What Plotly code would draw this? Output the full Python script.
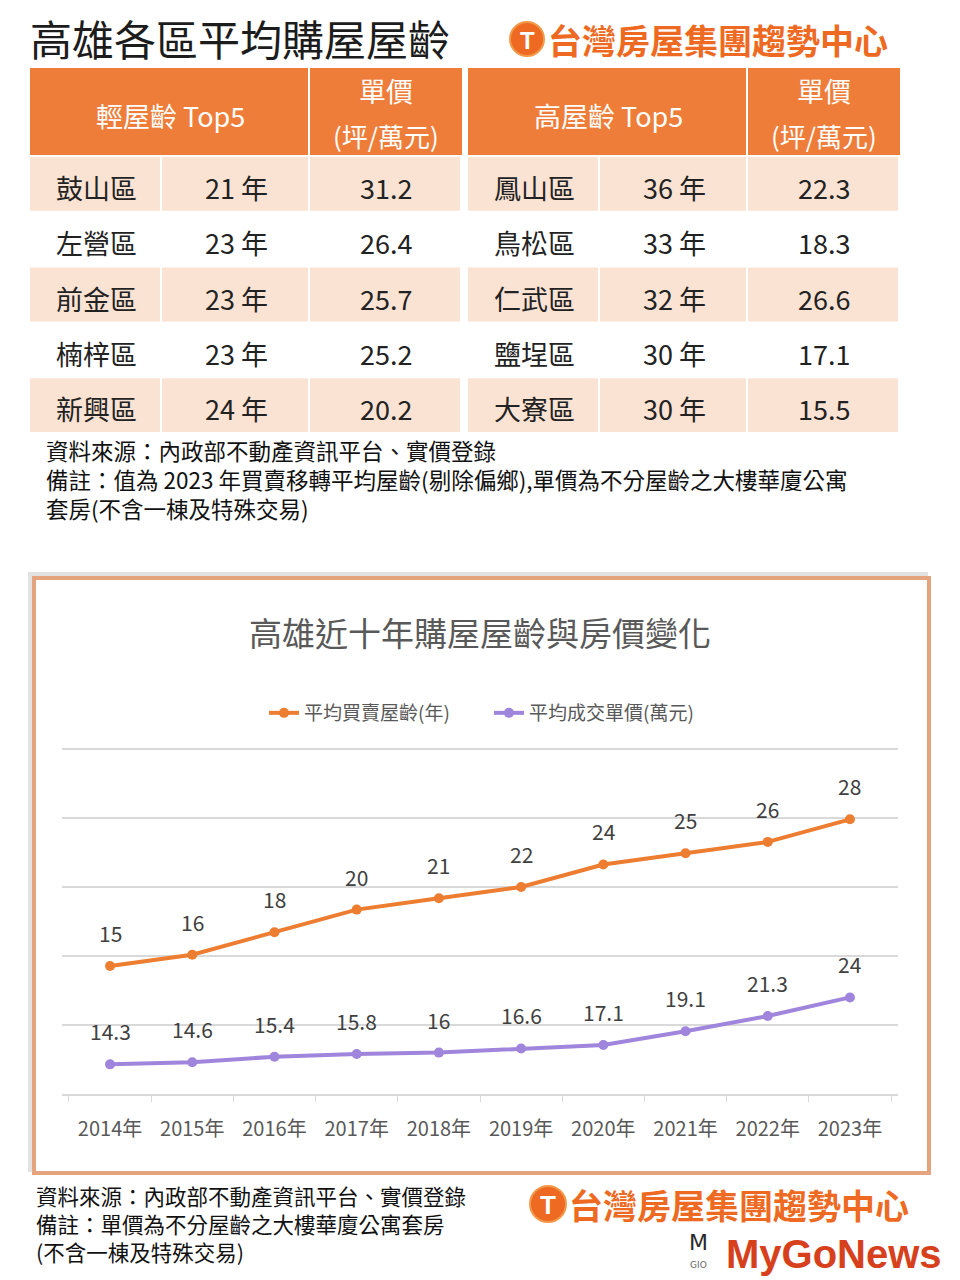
import plotly.graph_objects as go

W, H = 960, 1280

# ---------------- data ----------------
main_title = "高雄各區平均購屋屋齡"
brand = "台灣房屋集團趨勢中心"
light_header = "輕屋齡 Top5"
old_header = "高屋齡 Top5"
price_header = ["單價", "(坪/萬元)"]

light_districts = ["鼓山區", "左營區", "前金區", "楠梓區", "新興區"]
light_ages = [21, 23, 23, 23, 24]
light_prices = [31.2, 26.4, 25.7, 25.2, 20.2]

old_districts = ["鳳山區", "鳥松區", "仁武區", "鹽埕區", "大寮區"]
old_ages = [36, 33, 32, 30, 30]
old_prices = [22.3, 18.3, 26.6, 17.1, 15.5]

table_notes = [
    "資料來源：內政部不動產資訊平台、實價登錄",
    "備註：值為 2023 年買賣移轉平均屋齡(剔除偏鄉),單價為不分屋齡之大樓華廈公寓",
    "套房(不含一棟及特殊交易)",
]

chart_title = "高雄近十年購屋屋齡與房價變化"
years = ["2014年", "2015年", "2016年", "2017年", "2018年",
         "2019年", "2020年", "2021年", "2022年", "2023年"]
avg_age = [15, 16, 18, 20, 21, 22, 24, 25, 26, 28]
avg_price = [14.3, 14.6, 15.4, 15.8, 16, 16.6, 17.1, 19.1, 21.3, 24]
series_names = ["平均買賣屋齡(年)", "平均成交單價(萬元)"]

bottom_notes = [
    "資料來源：內政部不動產資訊平台、實價登錄",
    "備註：單價為不分屋齡之大樓華廈公寓套房",
    "(不含一棟及特殊交易)",
]

# ---------------- style ----------------
CJK = "Noto Sans CJK TC, Noto Sans CJK SC, sans-serif"
ORANGE_HDR = "#EF7D3A"
PINK = "#FBE3D4"
TXT = "#222222"
GRAY = "#595959"
LINE_OR = "#ED7D31"
LINE_PU = "#A085DC"
BRAND = "#EE6A22"


def px(x):
    return x / W


def py(y):
    return 1 - y / H


shapes = []
annotations = []


def rect(x0, y0, x1, y1, fill, line_color=None, line_width=0, layer="below"):
    shapes.append(dict(type="rect", xref="paper", yref="paper",
                       x0=px(x0), x1=px(x1), y0=py(y1), y1=py(y0),
                       fillcolor=fill, layer=layer,
                       line=dict(color=line_color or fill, width=line_width)))


def text(x, y, s, size, color=TXT, xanchor="center", family=CJK,
         yanchor="middle", align="center"):
    annotations.append(dict(xref="paper", yref="paper", x=px(x), y=py(y),
                            text=s, showarrow=False, xanchor=xanchor,
                            yanchor=yanchor, align=align,
                            font=dict(size=size, color=color, family=family)))


# ---------------- header title & brand ----------------
text(28, 37, main_title, 42, "#1c1c1c", xanchor="left")


def brand_logo(cx, cy, r, text_x, size):
    shapes.append(dict(type="circle", xref="paper", yref="paper",
                       x0=px(cx - r), x1=px(cx + r), y0=py(cy + r), y1=py(cy - r),
                       fillcolor=BRAND, line=dict(color="#F39A4A", width=2)))
    text(cx, cy + 1, "<b>T</b>", int(r * 1.45), "white", family="Liberation Sans")
    text(text_x, cy, "<b>" + brand + "</b>", size, BRAND, xanchor="left")


brand_logo(527, 39, 17, 546, 34)

# ---------------- table ----------------
hdr_top, hdr_bot = 68, 155
row_top, row_h = 157, 55.3
tables = [
    (30, [30, 162, 310, 462], light_header, light_districts, light_ages, light_prices),
    (468, [468, 600, 748, 900], old_header, old_districts, old_ages, old_prices),
]
for left, cols, hdr, dists, ages, prices in tables:
    # header
    rect(cols[0], hdr_top, cols[2] - 2, hdr_bot, ORANGE_HDR)
    rect(cols[2], hdr_top, cols[3], hdr_bot, ORANGE_HDR)
    text((cols[0] + cols[2]) / 2, 115, hdr, 27, "white")
    text((cols[2] + cols[3]) / 2, 91, price_header[0], 27, "white")
    text((cols[2] + cols[3]) / 2, 136, price_header[1], 26, "white")
    # rows
    for i in range(len(dists)):
        y0 = row_top + i * row_h
        y1 = y0 + row_h - 1.5
        if i % 2 == 0:
            for c in range(3):
                rect(cols[c], y0, cols[c + 1] - 2, y1, PINK)
        yc = y0 + row_h / 2 + 3
        text((cols[0] + cols[1]) / 2, yc, dists[i], 27)
        text((cols[1] + cols[2]) / 2, yc, f"{ages[i]} 年", 27)
        text((cols[2] + cols[3]) / 2, yc, f"{prices[i]:g}", 27)

for i, s in enumerate(table_notes):
    text(44, 450 + i * 29, s, 22.5, "#111111", xanchor="left")

# ---------------- chart frame ----------------
rect(30, 574, 926, 1170, "rgba(0,0,0,0)", "#E2E2E2", 4)
rect(34, 578, 929, 1173, "white", "#E6A47E", 4)
text(480, 632, chart_title, 33, GRAY)

# ---------------- chart ----------------
fig = go.Figure()
fig.add_trace(go.Scatter(
    x=years, y=avg_age, name=series_names[0], yaxis="y2",
    mode="lines+markers",
    line=dict(color=LINE_OR, width=4),
    marker=dict(color=LINE_OR, size=10, symbol="circle"),
))
fig.add_trace(go.Scatter(
    x=years, y=avg_price, name=series_names[1], yaxis="y",
    mode="lines+markers",
    line=dict(color=LINE_PU, width=4),
    marker=dict(color=LINE_PU, size=10, symbol="circle"),
))

for x, v in zip(years, avg_age):
    annotations.append(dict(xref="x", yref="y2", x=x, y=v, text=f"{v:g}",
                            showarrow=False, yshift=33,
                            font=dict(size=21, color="#404040", family=CJK)))
for x, v in zip(years, avg_price):
    annotations.append(dict(xref="x", yref="y", x=x, y=v, text=f"{v:g}",
                            showarrow=False, yshift=33,
                            font=dict(size=21, color="#404040", family=CJK)))

# ---------------- bottom notes & logos ----------------
text(34, 1178, "<br>".join(bottom_notes), 21.5, "#111111", xanchor="left",
     yanchor="top", align="left")

brand_logo(548, 1204, 18, 567, 34)
text(698, 1242, "M", 22, "#2a2a2a", family="DejaVu Sans")
text(698, 1265, "GIO", 9, "#666666", family="DejaVu Sans")
text(724, 1254, "<b>MyGoNews</b>", 40, "#D6401C", xanchor="left",
     family="Liberation Sans, Arial, sans-serif")

fig.update_layout(
    width=W, height=H,
    margin=dict(l=0, r=0, t=0, b=0),
    paper_bgcolor="white", plot_bgcolor="white",
    shapes=shapes, annotations=annotations,
    showlegend=True,
    legend=dict(orientation="h", x=px(264), y=py(713), xanchor="left",
                yanchor="middle", font=dict(size=19, color=GRAY, family=CJK),
                bgcolor="rgba(0,0,0,0)", entrywidth=180,
                entrywidthmode="pixels"),
    xaxis=dict(domain=[px(62), px(898)], type="category",
               showline=True, linecolor="#D9D9D9", linewidth=1.5,
               ticks="outside", tickson="boundaries", ticklen=6,
               tickcolor="#D9D9D9", showgrid=False,
               tickfont=dict(size=20, color=GRAY, family=CJK),
               ticklabelstandoff=16),
    yaxis=dict(domain=[py(1094), py(747)], range=[10, 60.3], dtick=10,
               showgrid=True, gridcolor="#D9D9D9", gridwidth=1.5,
               zeroline=False, showticklabels=False, ticks=""),
    yaxis2=dict(overlaying="y", range=[3.66, 34.41], showgrid=False,
                zeroline=False, showticklabels=False, ticks="",
                side="right"),
)

fig.write_html("out.html")
